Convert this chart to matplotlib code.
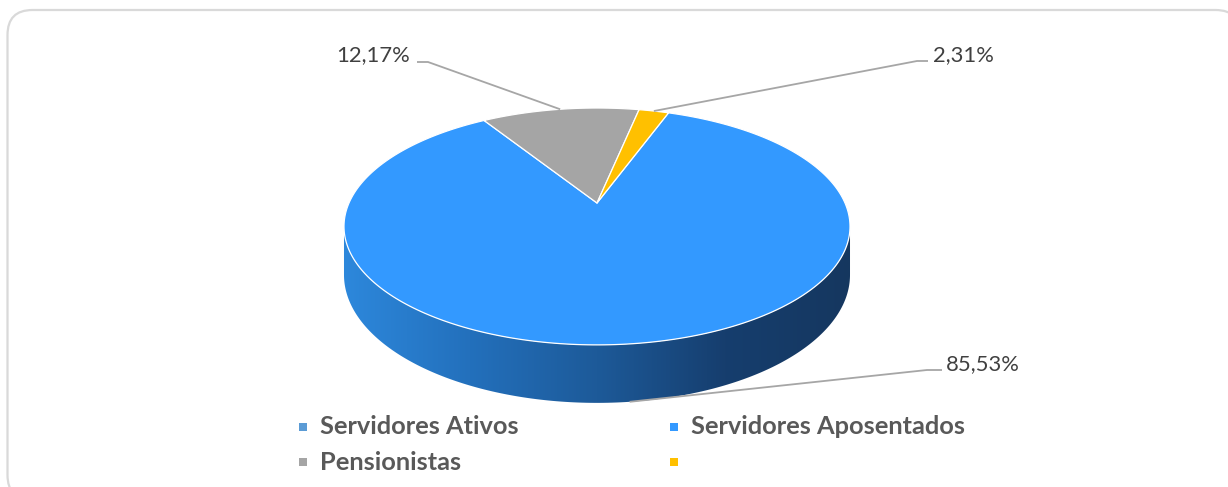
import numpy as np
import matplotlib.pyplot as plt
from matplotlib.patches import Polygon, FancyBboxPatch, Rectangle
from matplotlib.colors import LinearSegmentedColormap

# ---- data ----
categories = ['Servidores Ativos', 'Servidores Aposentados', 'Pensionistas', '']
values = [0.0, 85.53, 12.17, 2.31]
slice_colors = ['#5B9BD5', '#3399FF', '#A5A5A5', '#FFC000']
first_angle = 20  # Excel "angle of first slice", clockwise from 12 o'clock

# ---- 3D pie geometry (pixel space) ----
cx, cy = 597, 203      # apex of the top face
rx = 248               # horizontal radius
ky = 113.8             # vertical scale
persp = 0.198          # perspective factor
depth = 46.5           # side thickness
vis_lo = np.degrees(np.arccos(-persp))   # visible front side range
vis_hi = 360 - vis_lo

W, H = 1228, 487


def project(theta, z=0.0):
    t = np.radians(theta)
    x = np.sin(t)
    y = np.cos(t)
    d = 1 + persp * y
    return cx + rx * x / d, cy - ky * y / d + z * depth / d


fig = plt.figure(figsize=(W / 100, H / 100), dpi=100)
ax = fig.add_axes([0, 0, 1, 1])
ax.set_xlim(0, W)
ax.set_ylim(H, 0)
ax.axis('off')

# chart area frame with rounded corners
ax.add_patch(FancyBboxPatch((7.5, 10), 1233, 490, boxstyle='round,pad=0,rounding_size=25',
                            fc='white', ec='#D9D9D9', lw=1.6, zorder=0))

total = sum(values)
starts = []
a = first_angle
for v in values:
    starts.append(a)
    a += v / total * 360

side_cmap = LinearSegmentedColormap.from_list(
    'side', ['#2D88DC', '#2370BC', '#1D5A99', '#163E6E', '#15375F'], N=256)
grad = np.linspace(0, 1, 256).reshape(1, -1)
x_min, x_max = cx - rx * 1.03, cx + rx * 1.03

# ---- sides (front visible part) ----
for i, v in enumerate(values):
    if v <= 0:
        continue
    a0, a1 = starts[i], starts[i] + v / total * 360
    for off in (0, 360):
        lo, hi = max(a0, vis_lo + off), min(a1, vis_hi + off)
        if hi <= lo:
            continue
        th = np.linspace(lo, hi, 200)
        xt, yt = project(th)
        xb, yb = project(th[::-1], 1.0)
        pts = np.column_stack([np.r_[xt, xb], np.r_[yt, yb]])
        poly = Polygon(pts, closed=True, fc='none', ec='none', zorder=2)
        ax.add_patch(poly)
        im = ax.imshow(grad, cmap=side_cmap, extent=(x_min, x_max, 420, 190),
                       aspect='auto', zorder=2, interpolation='bilinear')
        im.set_clip_path(poly)

# ---- top face ----
for i, v in enumerate(values):
    if v <= 0:
        continue
    a0, a1 = starts[i], starts[i] + v / total * 360
    th = np.linspace(a0, a1, 300)
    xt, yt = project(th)
    pts = np.column_stack([np.r_[cx, xt], np.r_[cy, yt]])
    ax.add_patch(Polygon(pts, closed=True, fc=slice_colors[i], ec='white', lw=0.9,
                         joinstyle='round', zorder=3))

# ---- data labels with leader lines ----
label_layout = {
    1: dict(xy=(946, 364), ha='left', line=[(942, 370), (927, 370)]),
    2: dict(xy=(410, 55), ha='right', line=[(417, 62), (428, 62)]),
    3: dict(xy=(933, 55), ha='left', line=[(928, 61), (917, 61)]),
}
for i, v in enumerate(values):
    if v <= 0 or i not in label_layout:
        continue
    lay = label_layout[i]
    mid = starts[i] + v / total * 180
    m = mid % 360
    if vis_lo <= m <= vis_hi:
        tx, ty = project(mid, 1.0)
    else:
        tx, ty = project(mid)
    xs = [p[0] for p in lay['line']] + [tx]
    ys = [p[1] for p in lay['line']] + [ty]
    ax.plot(xs, ys, color='#A6A6A6', lw=1.3, zorder=4, solid_capstyle='butt')
    txt = f'{v:.2f}%'.replace('.', ',')
    ax.text(lay['xy'][0], lay['xy'][1], txt, ha=lay['ha'], va='center',
            fontsize=15.8, family='Lato', color='#404040', zorder=5)

# ---- legend ----
leg_x = [303, 674]
leg_y = [427, 462]
for i, (lab, col) in enumerate(zip(categories, slice_colors)):
    x = leg_x[i % 2]
    y = leg_y[i // 2]
    ax.add_patch(Rectangle((x - 4, y - 4), 8, 8, fc=col, ec='none', zorder=5))
    ax.text(x + 17, y, lab, ha='left', va='center', fontsize=18.3, family='Lato',
            fontweight='bold', color='#595959', zorder=5)

fig.savefig('out.png', dpi=100)
